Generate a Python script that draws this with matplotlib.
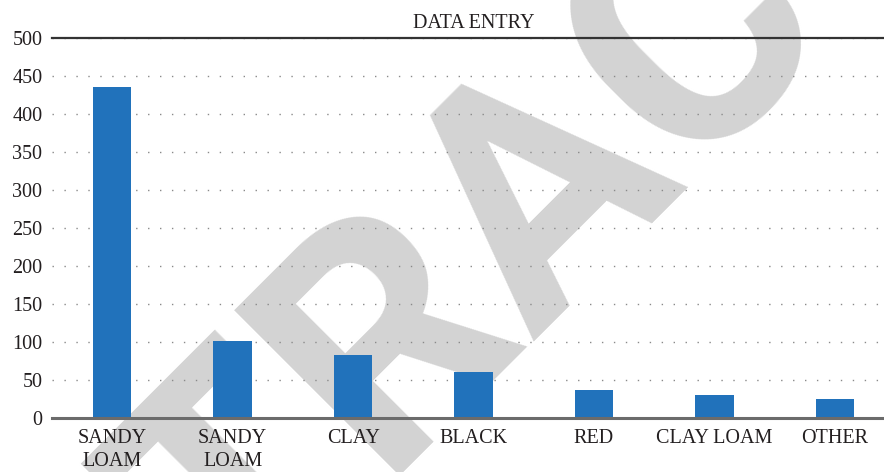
import matplotlib
matplotlib.use("Agg")
import matplotlib.pyplot as plt
import numpy as np

categories = ["SANDY\nLOAM", "SANDY\nLOAM", "CLAY", "BLACK", "RED", "CLAY LOAM", "OTHER"]
counts = [435, 101, 83, 60, 37, 30, 25]
yticks = [0, 50, 100, 150, 200, 250, 300, 350, 400, 450, 500]
title = "DATA ENTRY"
watermark = "RETRACTED"

plt.rcParams['font.family'] = ['Liberation Serif', 'DejaVu Serif']

W, H = 884, 472
fig = plt.figure(figsize=(W / 100, H / 100), dpi=100)
ax = fig.add_axes([52 / W, (H - 418) / H, 843 / W, 380 / H])
ax.patch.set_facecolor('none')

# watermark behind everything
fig.text(609 / W, 1 - 246 / H, watermark, rotation=45, rotation_mode='anchor',
         ha='center', va='baseline', fontsize=236, fontweight='bold',
         family='Roboto', color='#d3d3d3', zorder=-1)

x = np.arange(len(categories))
ax.bar(x, counts, width=0.32, color='#2172bb', zorder=3)

ax.set_xlim(-0.5, len(categories) - 0.5)
ax.set_ylim(0, 500)
ax.set_yticks(yticks)
ax.set_xticks(x)
ax.set_xticklabels(categories, linespacing=1.25)
ax.tick_params(axis='both', length=0, labelsize=14.5, colors='#231f20')
ax.tick_params(axis='y', pad=7)
ax.tick_params(axis='x', pad=8)

ax.yaxis.grid(True, linestyle=(0, (1, 7.6)), linewidth=1.0, color='#8a8a8a')
ax.set_axisbelow(True)

for s in ['left', 'right']:
    ax.spines[s].set_visible(False)
ax.spines['top'].set_color('#333333')
ax.spines['top'].set_linewidth(1.6)
ax.spines['bottom'].set_color('#6b6b6b')
ax.spines['bottom'].set_linewidth(2.2)
ax.spines['bottom'].set_zorder(4)

ax.set_title(title, fontsize=14.5, pad=7, color='#231f20')

fig.savefig("out.png", dpi=100)
